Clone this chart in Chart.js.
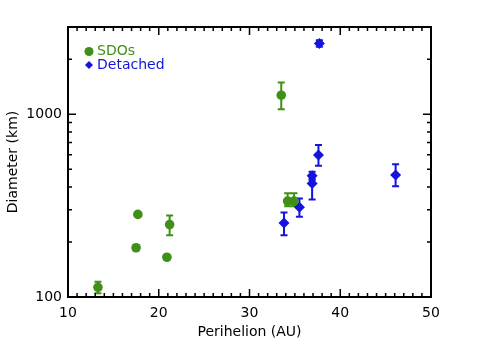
<!DOCTYPE html>
<html>
<head>
<meta charset="utf-8">
<script src="https://cdn.jsdelivr.net/npm/chart.js@4.4.1/dist/chart.umd.min.js"></script>
<style>
  html, body { margin: 0; padding: 0; background: #fff; }
  #wrap { width: 477px; height: 352px; }
</style>
</head>
<body>
<div id="wrap"><canvas id="chart"></canvas></div>
<script>
// ================= DATA =================
const sdoPeri = [13.3, 17.5, 17.7, 20.9, 21.2, 33.5, 34.2, 34.9];
const sdoDiam = [113, 186, 283, 165, 249, 1271, 335, 335];
const sdoErrLo = [8, 0, 0, 0, 31, 206, 21, 21];
const sdoErrHi = [8, 0, 0, 0, 30, 219, 34, 34];

const detPeri = [33.8, 35.5, 36.9, 36.9, 37.6, 37.7, 46.1];
const detDiam = [254, 310, 461, 418, 598, 2438, 465];
const detErrLo = [36, 35, 25, 76, 75, 100, 62];
const detErrHi = [36, 36, 23, 25, 81, 100, 67];

const xTicks = [10, 20, 30, 40, 50];
const yLabeled = [100, 1000];

const GREEN = "#3f9016";
const BLUE = "#1414dc";
const FONT = "'DejaVu Sans', sans-serif";

function toPoints(xs, ys) {
  return xs.map((x, i) => ({ x, y: ys[i] }));
}

// ================= PLUGIN: ERROR BARS =================
const errorBarPlugin = {
  id: "errorBars",
  beforeDatasetsDraw(chart) {
    const { ctx, scales: { x, y } } = chart;
    const sets = [
      [sdoPeri, sdoDiam, sdoErrLo, sdoErrHi, GREEN],
      [detPeri, detDiam, detErrLo, detErrHi, BLUE]
    ];
    ctx.save();
    ctx.lineWidth = 2;
    sets.forEach(([xs, ys, lo, hi, col]) => {
      ctx.strokeStyle = col;
      xs.forEach((xv, i) => {
        if (!lo[i] && !hi[i]) return;
        const px = x.getPixelForValue(xv);
        const pTop = y.getPixelForValue(ys[i] + hi[i]);
        const pBot = y.getPixelForValue(ys[i] - lo[i]);
        ctx.beginPath();
        ctx.moveTo(px, pTop); ctx.lineTo(px, pBot);
        ctx.moveTo(px - 3.5, pTop); ctx.lineTo(px + 3.5, pTop);
        ctx.moveTo(px - 3.5, pBot); ctx.lineTo(px + 3.5, pBot);
        ctx.stroke();
      });
    });
    ctx.restore();
  }
};

// ================= PLUGIN: FRAME, TICKS, LEGEND =================
const framePlugin = {
  id: "frame",
  afterDraw(chart) {
    const { ctx, chartArea: a, scales: { x, y } } = chart;
    ctx.save();
    ctx.strokeStyle = "#000";
    ctx.lineWidth = 1.5;
    ctx.beginPath();
    // x ticks (bottom + top), inward
    for (let v = 10; v <= 50; v++) {
      const px = x.getPixelForValue(v);
      const len = v % 10 === 0 ? 8 : 4;
      ctx.moveTo(px, a.bottom); ctx.lineTo(px, a.bottom - len);
      ctx.moveTo(px, a.top); ctx.lineTo(px, a.top + len);
    }
    // y ticks (left + right), inward
    const yVals = [100, 200, 300, 400, 500, 600, 700, 800, 900, 1000, 2000, 3000];
    yVals.forEach(v => {
      const py = y.getPixelForValue(v);
      const len = yLabeled.includes(v) ? 8 : 4;
      ctx.moveTo(a.left, py); ctx.lineTo(a.left + len, py);
      ctx.moveTo(a.right, py); ctx.lineTo(a.right - len, py);
    });
    ctx.stroke();

    ctx.lineWidth = 2;
    ctx.strokeRect(a.left, a.top, a.right - a.left, a.bottom - a.top);

    // legend
    ctx.font = "14px " + FONT;
    ctx.textBaseline = "middle";
    ctx.textAlign = "left";
    ctx.fillStyle = GREEN;
    ctx.beginPath();
    ctx.arc(89, 51.5, 4.5, 0, Math.PI * 2);
    ctx.fill();
    ctx.fillText("SDOs", 97, 51.5);

    ctx.fillStyle = BLUE;
    ctx.beginPath();
    ctx.moveTo(89, 61); ctx.lineTo(93, 65); ctx.lineTo(89, 69); ctx.lineTo(85, 65);
    ctx.closePath();
    ctx.fill();
    ctx.fillText("Detached", 97, 65.5);
    ctx.restore();
  }
};

// ================= CHART =================
new Chart(document.getElementById("chart").getContext("2d"), {
  type: "scatter",
  data: {
    datasets: [
      {
        label: "SDOs",
        data: toPoints(sdoPeri, sdoDiam),
        backgroundColor: GREEN,
        borderColor: GREEN,
        pointStyle: "circle",
        pointRadius: 4.8,
        borderWidth: 0
      },
      {
        label: "Detached",
        data: toPoints(detPeri, detDiam),
        backgroundColor: BLUE,
        borderColor: BLUE,
        pointStyle: "rectRot",
        pointRadius: 5.5,
        borderWidth: 0
      }
    ]
  },
  plugins: [errorBarPlugin, framePlugin],
  options: {
    responsive: true,
    maintainAspectRatio: false,
    animation: false,
    layout: { padding: { left: 0, right: 46, top: 27, bottom: 0 } },
    plugins: {
      legend: { display: false },
      tooltip: { enabled: false }
    },
    scales: {
      x: {
        type: "linear",
        min: 10,
        max: 50,
        afterFit(s) { s.height = 55; },
        afterBuildTicks(s) { s.ticks = xTicks.map(v => ({ value: v })); },
        grid: { display: false, drawTicks: false },
        border: { display: false },
        ticks: { color: "#000", font: { family: FONT, size: 14 }, padding: 8, maxRotation: 0 },
        title: {
          display: true,
          text: "Perihelion (AU)",
          color: "#000",
          font: { family: FONT, size: 14 },
          padding: { top: 11.6, bottom: 11.6 }
        }
      },
      y: {
        type: "logarithmic",
        min: 100,
        max: 3000,
        afterFit(s) { s.width = 68; },
        grid: { display: false, drawTicks: false },
        border: { display: false },
        ticks: {
          color: "#000",
          font: { family: FONT, size: 14 },
          padding: 6,
          autoSkip: false,
          callback: v => yLabeled.includes(v) ? String(v) : ""
        },
        title: {
          display: true,
          text: "Diameter (km)",
          color: "#000",
          font: { family: FONT, size: 14 },
          padding: { top: 4.6, bottom: 0 }
        }
      }
    }
  }
});
</script>
</body>
</html>
